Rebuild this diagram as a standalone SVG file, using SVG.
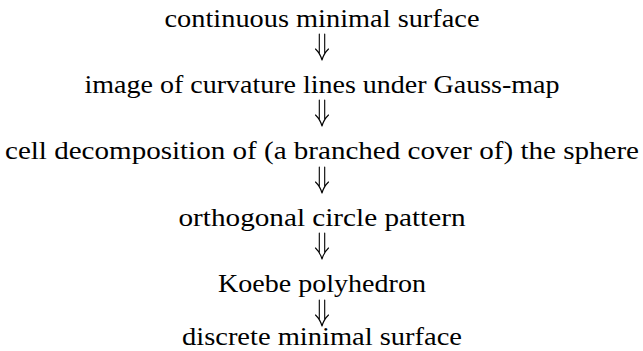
<svg xmlns="http://www.w3.org/2000/svg" width="643" height="351" viewBox="0 0 643 351">
<style>
text{font-family:"Liberation Serif","Times New Roman","DejaVu Serif",serif;font-size:25px;fill:#000;text-anchor:middle}
.arr{fill:none;stroke:#000;stroke-width:1.1;stroke-linecap:round;stroke-linejoin:round}
</style>
<defs>
<path id="dar" class="arr" d="M-2.7,0 V20 M2.7,0 V20 M-6.5,15 Q-1.8,19.5 0,26 Q1.8,19.5 6.5,15"/>
</defs>
<g id="n1"><text x="322" y="27" textLength="315" lengthAdjust="spacingAndGlyphs" font-family="Liberation Serif, serif">continuous minimal surface</text></g>
<g id="n2"><text x="322" y="93" textLength="475" lengthAdjust="spacingAndGlyphs" font-family="Liberation Serif, serif">image of curvature lines under Gauss-map</text></g>
<g id="n3"><text x="322" y="159" textLength="634" lengthAdjust="spacingAndGlyphs" font-family="Liberation Serif, serif">cell decomposition of (a branched cover of) the sphere</text></g>
<g id="n4"><text x="322" y="226" textLength="287" lengthAdjust="spacingAndGlyphs" font-family="Liberation Serif, serif">orthogonal circle pattern</text></g>
<g id="n5"><text x="322" y="292" textLength="208" lengthAdjust="spacingAndGlyphs" font-family="Liberation Serif, serif">Koebe polyhedron</text></g>
<g id="n6"><text x="322" y="345" textLength="280" lengthAdjust="spacingAndGlyphs" font-family="Liberation Serif, serif">discrete minimal surface</text></g>
<g id="connectors">
<use href="#dar" x="322" y="34"/>
<use href="#dar" x="322" y="100"/>
<use href="#dar" x="322" y="167"/>
<use href="#dar" x="322" y="233"/>
<use href="#dar" x="322" y="300"/>
</g>
</svg>
